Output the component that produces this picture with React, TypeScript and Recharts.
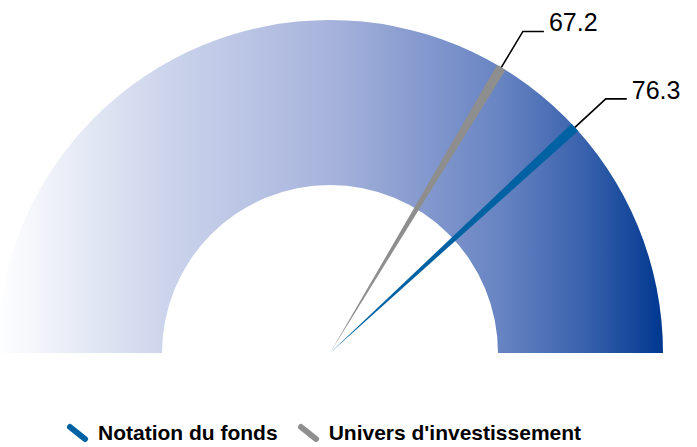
import { PieChart, Pie, Cell, Legend } from 'recharts';

const gaugeMin = 0;
const gaugeMax = 100;
const seriesNames = ['Notation du fonds', "Univers d'investissement"];
const seriesValues = [76.3, 67.2];
const seriesColors = ['#0062a3', '#8e8e8e'];
const legendOrder = [0, 1];

const RADIAN = Math.PI / 180;
const CX = 330;
const CY = 353;
const OUTER = 333;
const INNER = 168;
const NEEDLE_WIDTH = 1.7; // degrees

const bandData = [{ name: 'band', value: gaugeMax - gaugeMin }];

function needleData(value: number) {
  const deg = ((value - gaugeMin) / (gaugeMax - gaugeMin)) * 180;
  return [
    { name: 'before', value: deg - NEEDLE_WIDTH / 2 },
    { name: 'needle', value: NEEDLE_WIDTH, label: value },
    { name: 'after', value: 180 - deg - NEEDLE_WIDTH / 2 },
  ];
}

const renderValueLabel = (props: any) => {
  const { cx, cy, midAngle, outerRadius, index, payload } = props;
  if (index !== 1) return null;
  const cos = Math.cos(-midAngle * RADIAN);
  const sin = Math.sin(-midAngle * RADIAN);
  const sx = cx + outerRadius * cos;
  const sy = cy + outerRadius * sin;
  const mx = cx + (outerRadius + 42) * cos;
  const my = cy + (outerRadius + 42) * sin;
  const ex = mx + 21;
  return (
    <g>
      <path d={`M${sx},${sy}L${mx},${my}L${ex},${my}`} stroke="#000" strokeWidth={1.6} fill="none" />
      <text x={ex + 5} y={my} fill="#000" fontSize={25} fontFamily="Liberation Sans, Arial, sans-serif">
        {(payload?.label ?? props.label)?.toString()}
      </text>
    </g>
  );
};

const renderLegend = () => (
  <div
    style={{
      display: 'flex',
      alignItems: 'center',
      fontFamily: 'Liberation Sans, Arial, sans-serif',
      fontWeight: 'bold',
      fontSize: 21,
      lineHeight: '21px',
      color: '#000',
      paddingLeft: 66,
    }}
  >
    {legendOrder.map((i, k) => (
      <div key={seriesNames[i]} style={{ display: 'flex', alignItems: 'center', marginLeft: k === 0 ? 0 : 19 }}>
        <svg width={24} height={20} style={{ marginRight: 8 }}>
          <line x1={4} y1={4} x2={19} y2={16} stroke={seriesColors[i]} strokeWidth={6} strokeLinecap="round" />
        </svg>
        <span>{seriesNames[i]}</span>
      </div>
    ))}
  </div>
);

export default function App() {
  return (
    <div style={{ position: 'absolute', left: 0, top: 0, background: '#fff' }}>
      <PieChart width={697} height={447} margin={{ top: 0, right: 0, bottom: 0, left: 0 }}>
        <defs>
          <linearGradient id="gaugeGrad" x1="0" y1="0" x2="1" y2="0">
            <stop offset="0%" stopColor="#ffffff" />
            <stop offset="25%" stopColor="#cdd5ec" />
            <stop offset="50%" stopColor="#a7b3dc" />
            <stop offset="75%" stopColor="#6985c3" />
            <stop offset="88%" stopColor="#3a62ad" />
            <stop offset="100%" stopColor="#003890" />
          </linearGradient>
        </defs>
        <Pie
          data={bandData}
          dataKey="value"
          cx={CX}
          cy={CY}
          innerRadius={INNER}
          outerRadius={OUTER}
          startAngle={180}
          endAngle={0}
          stroke="none"
          isAnimationActive={false}
        >
          <Cell fill="url(#gaugeGrad)" />
        </Pie>
        {[1, 0].map((i) => (
          <Pie
            key={seriesNames[i]}
            data={needleData(seriesValues[i])}
            dataKey="value"
            cx={CX}
            cy={CY}
            innerRadius={0}
            outerRadius={OUTER}
            startAngle={180}
            endAngle={0}
            stroke="none"
            label={renderValueLabel}
            labelLine={false}
            isAnimationActive={false}
          >
            <Cell fill="transparent" />
            <Cell fill={seriesColors[i]} />
            <Cell fill="transparent" />
          </Pie>
        ))}
        <Legend content={renderLegend} wrapperStyle={{ top: 422, left: 0, width: 697 }} />
      </PieChart>
    </div>
  );
}
